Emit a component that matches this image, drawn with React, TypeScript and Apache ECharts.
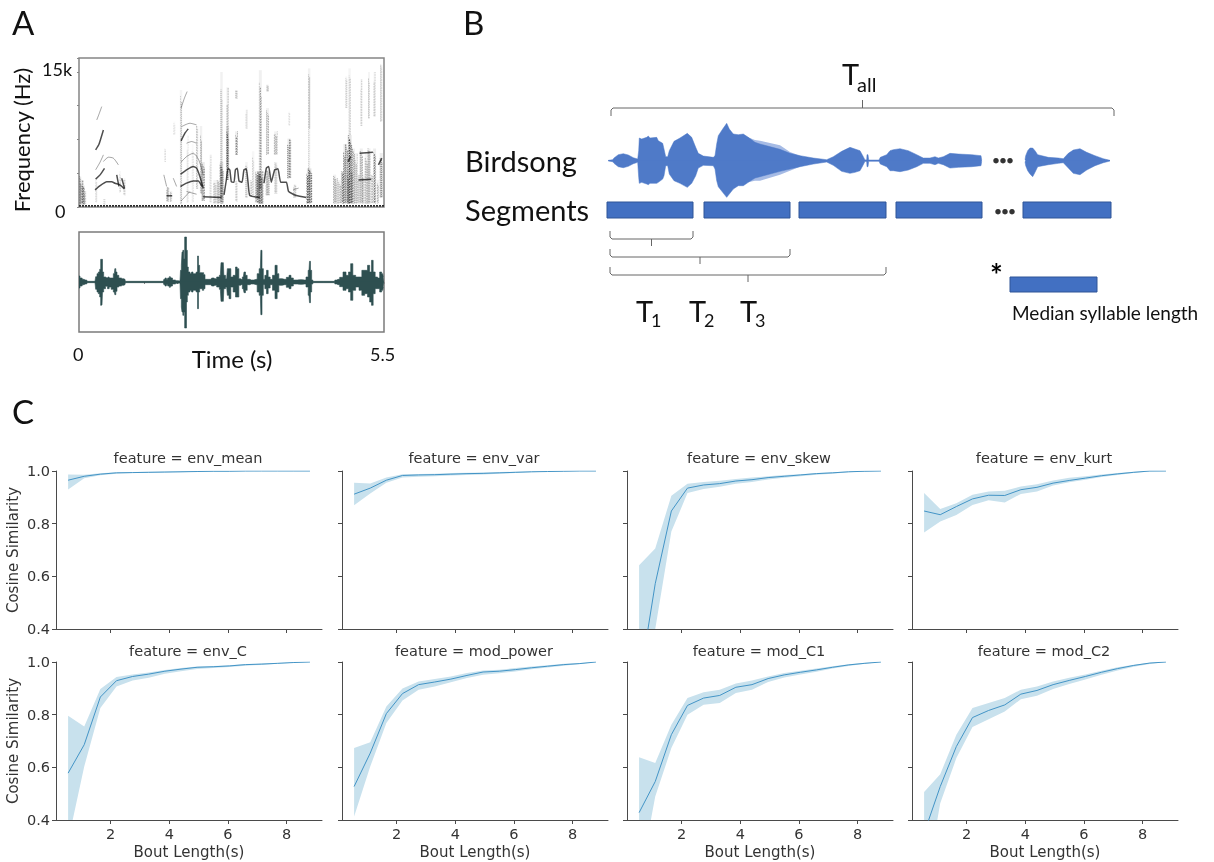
import React, { useEffect, useRef } from "react";
import * as echarts from "echarts";

// ---------- Panel C data ----------
const boutLengths = [0.55, 1.1, 1.65, 2.2, 2.75, 3.3, 3.85, 4.4, 4.95, 5.5, 6.05, 6.6, 7.15, 7.7, 8.25, 8.8];
const featureNames = ["env_mean", "env_var", "env_skew", "env_kurt", "env_C", "mod_power", "mod_C1", "mod_C2"];

const envMeanMean = [0.965, 0.98, 0.988, 0.993, 0.994, 0.995, 0.996, 0.997, 0.998, 0.999, 0.999, 1, 1, 1, 1, 1];
const envMeanUp = [0.987, 0.986, 0.991, 0.995, 0.996, 0.997, 0.998, 0.999, 0.999, 1, 1, 1, 1, 1, 1, 1];
const envMeanLo = [0.93, 0.972, 0.984, 0.99, 0.992, 0.993, 0.994, 0.995, 0.997, 0.998, 0.998, 0.999, 1, 1, 1, 1];

const envVarMean = [0.912, 0.935, 0.965, 0.983, 0.985, 0.986, 0.988, 0.99, 0.991, 0.993, 0.995, 0.997, 0.998, 0.999, 1, 1];
const envVarUp = [0.955, 0.953, 0.975, 0.988, 0.989, 0.99, 0.992, 0.993, 0.994, 0.996, 0.997, 0.998, 0.999, 1, 1, 1];
const envVarLo = [0.87, 0.915, 0.955, 0.975, 0.978, 0.98, 0.983, 0.985, 0.987, 0.99, 0.992, 0.995, 0.997, 0.999, 1, 1];

const envSkewMean = [0.19, 0.572, 0.848, 0.935, 0.947, 0.952, 0.962, 0.967, 0.975, 0.98, 0.985, 0.99, 0.993, 0.997, 0.999, 1];
const envSkewUp = [0.642, 0.706, 0.906, 0.952, 0.958, 0.963, 0.97, 0.975, 0.98, 0.985, 0.988, 0.992, 0.995, 0.998, 1, 1];
const envSkewLo = [0.1, 0.4, 0.77, 0.916, 0.932, 0.94, 0.952, 0.958, 0.968, 0.974, 0.98, 0.986, 0.99, 0.995, 0.998, 1];

const envKurtMean = [0.848, 0.834, 0.865, 0.894, 0.908, 0.907, 0.929, 0.938, 0.954, 0.964, 0.973, 0.982, 0.989, 0.995, 1, 1];
const envKurtUp = [0.916, 0.856, 0.878, 0.91, 0.922, 0.925, 0.941, 0.95, 0.964, 0.974, 0.98, 0.987, 0.992, 0.997, 1, 1];
const envKurtLo = [0.766, 0.808, 0.833, 0.871, 0.889, 0.88, 0.913, 0.922, 0.945, 0.957, 0.967, 0.977, 0.985, 0.992, 0.998, 1];

const envCMean = [0.578, 0.686, 0.867, 0.929, 0.945, 0.954, 0.965, 0.973, 0.98, 0.982, 0.985, 0.99, 0.992, 0.995, 0.998, 1];
const envCUp = [0.796, 0.755, 0.897, 0.943, 0.953, 0.96, 0.97, 0.977, 0.983, 0.985, 0.988, 0.992, 0.994, 0.996, 0.999, 1];
const envCLo = [0.32, 0.603, 0.825, 0.907, 0.93, 0.94, 0.955, 0.965, 0.973, 0.977, 0.981, 0.986, 0.989, 0.993, 0.997, 1];

const modPowerMean = [0.527, 0.654, 0.804, 0.88, 0.914, 0.924, 0.935, 0.949, 0.962, 0.965, 0.971, 0.978, 0.984, 0.99, 0.994, 1];
const modPowerUp = [0.673, 0.695, 0.831, 0.899, 0.926, 0.935, 0.945, 0.958, 0.968, 0.971, 0.977, 0.983, 0.988, 0.993, 0.996, 1];
const modPowerLo = [0.413, 0.603, 0.768, 0.854, 0.895, 0.907, 0.923, 0.939, 0.952, 0.957, 0.964, 0.972, 0.979, 0.986, 0.992, 1];

const modC1Mean = [0.428, 0.546, 0.724, 0.835, 0.863, 0.873, 0.904, 0.914, 0.937, 0.951, 0.961, 0.97, 0.98, 0.989, 0.995, 1];
const modC1Up = [0.638, 0.616, 0.762, 0.863, 0.885, 0.895, 0.918, 0.93, 0.945, 0.958, 0.967, 0.975, 0.984, 0.991, 0.997, 1];
const modC1Lo = [0.16, 0.489, 0.673, 0.8, 0.838, 0.844, 0.882, 0.895, 0.924, 0.941, 0.953, 0.963, 0.975, 0.985, 0.993, 1];

const modC2Mean = [0.35, 0.527, 0.679, 0.789, 0.816, 0.837, 0.878, 0.892, 0.914, 0.93, 0.945, 0.961, 0.975, 0.987, 0.996, 1];
const modC2Up = [0.506, 0.574, 0.724, 0.825, 0.844, 0.863, 0.895, 0.907, 0.926, 0.94, 0.953, 0.967, 0.98, 0.99, 0.997, 1];
const modC2Lo = [0.112, 0.464, 0.635, 0.753, 0.783, 0.812, 0.859, 0.872, 0.897, 0.916, 0.934, 0.952, 0.968, 0.982, 0.992, 1];

const featureMeans = [envMeanMean, envVarMean, envSkewMean, envKurtMean, envCMean, modPowerMean, modC1Mean, modC2Mean];
const featureUps = [envMeanUp, envVarUp, envSkewUp, envKurtUp, envCUp, modPowerUp, modC1Up, modC2Up];
const featureLos = [envMeanLo, envVarLo, envSkewLo, envKurtLo, envCLo, modPowerLo, modC1Lo, modC2Lo];
const xTickValues = [2, 4, 6, 8];

// ---------- Panel A spectrogram (seconds, kHz) ----------
const strokesDark: number[][][] = [
  [[0.29, 1.9], [0.38, 2.37], [0.5, 2.81], [0.59, 2.81], [0.65, 2.63], [0.74, 2.46], [0.82, 2.0]],
  [[0.3, 3.1], [0.38, 3.57], [0.46, 4.3]],
  [[0.3, 6.35], [0.36, 6.97], [0.44, 8.56]],
  [[0.68, 3.57], [0.72, 2.3]],
  [[0.77, 3.2], [0.82, 2.1]],
  [[1.58, 1.24], [1.68, 1.24]],
  [[1.83, 2.28], [1.94, 2.65], [2.06, 2.9], [2.15, 2.9], [2.22, 2.28]],
  [[1.83, 3.64], [1.94, 4.13], [2.06, 4.5], [2.12, 4.31], [2.18, 3.38], [2.24, 2.08]],
  [[1.84, 7.34], [1.91, 8.2], [1.97, 8.68]],
  [[2.24, 1.15], [2.57, 1.05]],
  [[2.615, 1.35], [2.657, 3.0], [2.687, 4.3], [2.72, 4.1], [2.747, 2.81], [2.795, 2.75], [2.82, 4.13], [2.855, 4.3], [2.885, 2.9], [2.94, 2.75], [2.975, 4.13], [3.017, 4.24], [3.05, 2.65], [3.08, 1.27], [3.26, 1.05]],
  [[3.336, 2.65], [3.378, 4.3], [3.42, 4.5], [3.468, 2.75], [3.528, 4.13], [3.588, 4.24], [3.637, 2.75], [3.74, 2.75], [3.78, 1.72], [3.92, 1.27], [4.1, 1.05]],
  [[5.06, 5.97], [5.3, 6.09]],
  [[5.04, 3.0], [5.27, 3.08]],
  [[4.85, 5.05], [4.9, 5.6]],
  [[5.4, 4.67], [5.46, 5.42]],
];
const strokesFaint: number[][][] = [
  [[0.44, 5.05], [0.53, 5.53], [0.62, 5.42], [0.71, 4.68]],
  [[0.3, 4.13], [0.38, 4.98], [0.44, 5.79]],
  [[0.32, 9.67], [0.36, 10.3], [0.41, 11.15]],
  [[1.53, 3.57], [1.58, 2.28]],
  [[1.7, 3.2], [1.76, 2.28]],
  [[1.84, 4.98], [1.94, 5.6], [2.06, 5.97], [2.16, 5.22], [2.24, 3.57]],
  [[1.94, 7.08], [2.03, 7.27], [2.12, 7.08]],
  [[1.85, 8.93], [2.0, 9.3], [2.12, 9.12]],
  [[1.84, 10.97], [1.9, 12.08], [1.95, 12.82]],
  [[1.84, 0.67], [2.0, 1.72]],
  [[1.94, 1.72], [2.12, 1.42]],
  [[3.86, 1.9], [3.96, 2.1]],
];
// [time, low kHz, high kHz, darkness, spread]
const smears: number[][] = [
  [0.02, 0.3, 3.4, 0.35, 1.5], [0.05, 0.3, 3, 0.6, 2], [0.08, 0.3, 2.4, 0.5, 2], [0.11, 0.3, 1.8, 0.3, 1.5],
  [0.31, 0.5, 3.2, 0.2, 1], [0.46, 0.2, 0.9, 0.2, 1], [0.74, 1.6, 4, 0.2, 1], [0.82, 1.3, 3.2, 0.25, 1],
  [1.6, 0.6, 2.2, 0.45, 2], [1.66, 0.6, 1.8, 0.35, 1.5], [1.55, 5, 6.5, 0.15, 1], [1.72, 8, 9.5, 0.15, 1],
  [1.84, 0.3, 13, 0.28, 1.5], [1.96, 0.5, 8, 0.16, 1], [2.05, 0.5, 7, 0.15, 1], [2.13, 2, 9, 0.28, 1.5],
  [2.2, 1.5, 9, 0.38, 1.5], [2.24, 0.7, 5, 0.6, 2], [2.37, 0.5, 5.8, 0.2, 1.5], [2.45, 0.4, 3, 0.3, 2],
  [2.51, 0.4, 3, 0.4, 2], [2.57, 1, 15, 0.38, 1.5], [2.57, 0.4, 5, 0.7, 2.5], [2.68, 4.5, 13.3, 0.38, 1.5], [2.68, 3, 9, 0.55, 2],
  [2.84, 12, 13, 0.38, 1.5], [2.84, 5.8, 8.4, 0.45, 2], [2.84, 0.6, 3, 0.28, 1], [3.02, 8.7, 10.8, 0.22, 1], [3.02, 1, 5, 0.35, 1.5],
  [3.1, 1.2, 3, 0.25, 1.5], [3.14, 1.3, 6.2, 0.22, 1.5], [3.2, 0.5, 4, 0.4, 2], [3.23, 1, 3.6, 0.35, 2],
  [3.27, 2, 15.2, 0.42, 2], [3.27, 0.4, 4, 0.85, 3.5], [3.4, 12.8, 13.6, 0.4, 1.5], [3.4, 5.8, 11, 0.36, 2], [3.4, 1.3, 4.1, 0.45, 2.5],
  [3.55, 5.8, 8.4, 0.38, 2.5], [3.55, 1.5, 5, 0.3, 2], [3.79, 3.2, 7.6, 0.55, 2.5], [3.79, 9, 10.6, 0.15, 1], [3.89, 1, 2.5, 0.28, 2],
  [4.15, 8.7, 15.4, 0.36, 1.5], [4.15, 4.3, 8.7, 0.2, 1.5], [4.15, 0.4, 4.3, 0.8, 3.5],
  [4.61, 0.4, 3.6, 0.4, 2], [4.65, 0.4, 3.2, 0.3, 1.5], [4.7, 0.4, 3, 0.35, 2], [4.75, 0.4, 4, 0.5, 2], [4.8, 0.4, 7, 0.6, 2.5],
  [4.82, 11, 14.5, 0.24, 1], [4.88, 0.4, 8, 0.75, 3], [4.88, 8, 15.4, 0.28, 1.5], [4.95, 0.4, 6.5, 0.4, 2], [5.0, 0.4, 6, 0.35, 2],
  [5.09, 0.4, 6.5, 0.45, 2], [5.09, 9, 14.2, 0.24, 1], [5.18, 0.4, 6, 0.35, 2], [5.23, 0.4, 6.5, 0.45, 2], [5.23, 9.8, 15, 0.28, 1],
  [5.33, 0.4, 6.5, 0.5, 2], [5.33, 10, 15, 0.28, 1], [5.45, 1, 6, 0.5, 2], [5.45, 9.5, 15.8, 0.3, 1.5],
  [4.85, 0.4, 4, 0.5, 1.5], [4.92, 0.4, 4, 0.4, 1.5], [5.04, 0.4, 3.6, 0.35, 1.5], [5.13, 0.4, 3.6, 0.35, 1.5], [5.28, 0.4, 3.6, 0.35, 1.5], [5.39, 0.4, 3, 0.35, 1.5],
];
const spectroBase = [[0, 0.12], [5.5, 0.12]];

// ---------- Panel A waveform (frames, envelope up, envelope down) ----------
const waveFrames = [0, 6, 13, 18, 24, 25, 48, 52, 56, 60, 64, 66, 69, 72, 76, 83, 88, 93, 100, 106, 109, 112, 116, 123, 130, 138, 140, 253, 256, 260, 264, 268, 274, 278, 283, 293, 303, 306, 308, 310, 313, 316, 318, 321, 324, 326, 330, 336, 340, 344, 350, 354, 357, 360, 364, 368, 372, 376, 380, 396, 400, 408, 418, 424, 428, 433, 436, 443, 447, 453, 458, 467, 472, 477, 482, 487, 493, 497, 502, 507, 517, 532, 537, 544, 547, 551, 555, 560, 565, 570, 577, 584, 592, 597, 602, 617, 627, 633, 639, 647, 662, 677, 685, 690, 693, 696, 700, 703, 765, 770, 777, 787, 797, 805, 812, 818, 825, 835, 845, 852, 862, 869, 875, 880, 885, 892, 899, 905, 911, 915];
const waveUp = [18, 12, 8, 6, 5, 2, 2, 16, 25, 30, 38, 68, 68, 30, 15, 13, 15, 12, 12, 25, 40, 30, 20, 12, 10, 8, 2, 2, 8, 12, 8, 12, 16, 12, 6, 4, 3, 35, 50, 90, 95, 70, 135, 135, 95, 45, 30, 25, 30, 25, 25, 30, 78, 50, 28, 28, 28, 22, 8, 8, 12, 10, 15, 20, 58, 58, 20, 10, 40, 40, 15, 20, 45, 40, 10, 8, 15, 30, 20, 8, 6, 8, 25, 40, 95, 40, 8, 20, 35, 15, 8, 20, 50, 25, 10, 8, 14, 20, 12, 6, 7, 6, 15, 35, 62, 35, 6, 2, 2, 6, 8, 14, 30, 20, 30, 55, 20, 15, 15, 35, 35, 50, 30, 65, 30, 15, 12, 30, 25, 15];
const waveDown = [18, 12, 8, 6, 5, 2, 2, 22, 30, 35, 45, 70, 68, 30, 20, 13, 20, 15, 22, 30, 38, 28, 15, 12, 10, 8, 2, 2, 8, 12, 8, 12, 16, 12, 6, 4, 3, 50, 75, 90, 100, 90, 138, 138, 60, 40, 30, 25, 30, 25, 25, 30, 80, 30, 20, 20, 25, 20, 8, 8, 12, 10, 15, 22, 58, 58, 20, 15, 40, 50, 15, 30, 45, 45, 10, 8, 20, 32, 25, 8, 6, 8, 30, 40, 98, 40, 8, 20, 35, 18, 8, 25, 50, 30, 10, 8, 16, 20, 12, 6, 7, 6, 15, 40, 62, 30, 6, 2, 2, 6, 8, 14, 25, 20, 30, 55, 25, 15, 25, 40, 35, 45, 60, 70, 35, 20, 20, 30, 25, 15];

// ---------- Panel B birdsong envelope ----------
const songTimes = [8.3, 12.7, 14, 18.3, 23.3, 28.3, 33.3, 37.7, 38.7, 39.3, 41.7, 46.7, 48.3, 50, 56.7, 58.3, 62.7, 64, 65.7, 67.7, 69.3, 74, 80, 87.3, 91.7, 95.7, 98.3, 103.3, 113.3, 115, 116.7, 118.3, 122.7, 126.7, 129.3, 133.3, 138.3, 143.3, 148.3, 155, 160, 180, 190, 200, 213.3, 226.7, 233.3, 241.7, 250, 255, 260, 263.3, 265, 266.7, 267, 268, 268.7, 279, 280.3, 286.7, 290, 293.3, 300, 308.3, 316.7, 323.3, 330, 335, 338.3, 343.3, 350, 358.3, 371.7, 381, 381.7, 400, 425, 425.7, 427.7, 430, 432.7, 435, 437.7, 448.3, 458.3, 463.3, 468.3, 473.3, 480, 486.7, 495, 503.3, 510];
const songUp = [1, 3, 8, 18, 21, 17, 9, 5, 30, 68, 65, 70, 74, 68, 70, 60, 52, 35, 12, 12, 30, 58, 68, 82, 70, 40, 22, 14, 10, 15, 50, 75, 95, 112, 95, 80, 78, 80, 70, 55, 50, 34, 22, 15, 8, 3, 12, 28, 40, 35, 30, 12, 2, 3, 18, 18, 2, 2, 10, 18, 30, 33, 36, 30, 18, 8, 8, 12, 8, 12, 22, 20, 18, 15, 2, null, 3, 15, 30, 38, 38, 30, 18, 10, 8, 6, 22, 32, 36, 25, 15, 6, 1];
const songDown = [1, 3, 8, 18, 21, 17, 9, 5, 50, 68, 65, 70, 72, 68, 68, 65, 55, 45, 15, 15, 40, 60, 68, 80, 68, 45, 22, 14, 15, 25, 60, 78, 95, 110, 100, 85, 75, 75, 65, 52, 48, 32, 25, 18, 10, 4, 14, 32, 38, 35, 30, 12, 2, 3, 18, 18, 2, 2, 10, 18, 30, 30, 33, 28, 18, 8, 8, 12, 8, 12, 22, 20, 18, 15, 2, null, 3, 15, 30, 40, 48, 35, 18, 12, 8, 6, 22, 38, 42, 28, 15, 6, 1];
const songLightTimes = [148, 155, 160, 180, 190, 200];
const songLightUp = [70, 62, 60, 46, 26, 15];
const songLightDown = [65, 60, 60, 42, 30, 18];

// ---------- Panel B schematic ----------
const segmentSpans = [[7, 93], [104, 190], [199, 286], [296, 382], [423, 511]];
const segmentRow = [202, 218];
const medianSpan = [410, 497];
const medianRow = [277, 292];
const braceTall = [11, 514, 108];
const bracesBelow = [[10, 93, 239], [10, 190, 257], [10, 286, 275]];
const ellipsisDots = [[396, 160.7], [403, 160.7], [410, 160.7], [398, 211.7], [405, 211.7], [412, 211.7]];

// ---------- Layout ----------
const sans = "Lato, 'Liberation Sans', sans-serif";
const dj = "'DejaVu Sans', sans-serif";
const colLeft = [56, 342, 627, 912];
const rowTop = [471, 662];
const colW = 266;
const rowH = 158;
const speckleDashes = [[0.7, 0.9], [1.2, 0.8], [0.5, 1.1], [1.6, 1.0]];
const speckleEnds = [1, 0.86, 0.95, 0.78, 0.9];

function txt(text: string, x: number, y: number, size: number, opts: any = {}) {
  const { rotation, ...style } = opts;
  return {
    type: "text",
    x,
    y,
    rotation: rotation || 0,
    silent: true,
    style: {
      text,
      fontFamily: sans,
      fontSize: size,
      fill: "#111",
      textVerticalAlign: "middle",
      textAlign: "left",
      ...style,
    },
  };
}

function buildOption() {
  const grid: any[] = [];
  const xAxis: any[] = [];
  const yAxis: any[] = [];
  const series: any[] = [];
  const title: any[] = [];

  // Panel C
  featureNames.forEach((name, i) => {
    const c = i % 4;
    const r = Math.floor(i / 4);
    grid.push({ left: colLeft[c], top: rowTop[r], width: colW, height: rowH });
    const idx = grid.length - 1;
    xAxis.push({
      gridIndex: idx,
      type: "value",
      min: 0.137,
      max: 9.21,
      splitLine: { show: false },
      axisLine: { lineStyle: { color: "#4a4a4a", width: 1 } },
      axisTick: { length: 4, lineStyle: { color: "#4a4a4a" }, customValues: xTickValues },
      axisLabel: {
        show: r === 1,
        customValues: xTickValues,
        fontFamily: dj,
        fontSize: 14.5,
        color: "#333",
        margin: 6,
      },
      name: r === 1 ? "Bout Length(s)" : "",
      nameLocation: "middle",
      nameGap: 24,
      nameTextStyle: { fontFamily: dj, fontSize: 15, color: "#333" },
    });
    yAxis.push({
      gridIndex: idx,
      type: "value",
      min: 0.4,
      max: 1.0,
      interval: 0.2,
      splitLine: { show: false },
      axisLine: { show: true, lineStyle: { color: "#4a4a4a", width: 1 } },
      axisTick: { show: true, length: 4, lineStyle: { color: "#4a4a4a" } },
      axisLabel: {
        show: c === 0,
        fontFamily: dj,
        fontSize: 14.5,
        color: "#333",
        margin: 6,
        formatter: (v: number) => v.toFixed(1),
      },
      name: c === 0 ? "Cosine Similarity" : "",
      nameLocation: "middle",
      nameGap: 36,
      nameTextStyle: { fontFamily: dj, fontSize: 15, color: "#333" },
    });
    const lo = featureLos[i];
    const up = featureUps[i];
    const mean = featureMeans[i];
    series.push({
      type: "custom",
      xAxisIndex: idx,
      yAxisIndex: idx,
      clip: true,
      silent: true,
      data: boutLengths.map((x, k) => [x, lo[k], up[k]]),
      encode: { x: 0, y: [1, 2] },
      renderItem: (params: any, api: any) => {
        if (params.dataIndex !== 0) return null;
        const top = boutLengths.map((x, k) => api.coord([x, up[k]]));
        const bottom = boutLengths.map((x, k) => api.coord([x, lo[k]])).reverse();
        return {
          type: "polygon",
          shape: { points: [...top, ...bottom] },
          style: { fill: "#c8e1ed", stroke: "none" },
        };
      },
    });
    series.push({
      type: "line",
      xAxisIndex: idx,
      yAxisIndex: idx,
      symbol: "none",
      lineStyle: { color: "#4394c6", width: 1 },
      data: boutLengths.map((x, k) => [x, mean[k]]),
      clip: true,
      z: 5,
      silent: true,
    });
    title.push({
      text: "feature = " + name,
      left: colLeft[c] + 132,
      top: rowTop[r] === 471 ? 450 : 643,
      textAlign: "center",
      padding: 0,
      textStyle: { fontFamily: dj, fontSize: 14.5, fontWeight: "normal", color: "#333" },
    });
  });

  // Panel A spectrogram
  grid.push({ left: 79, top: 58, width: 305, height: 149, show: true, borderColor: "#858585", borderWidth: 1.5, backgroundColor: "#fff" });
  const sg = grid.length - 1;
  xAxis.push({ gridIndex: sg, type: "value", min: 0, max: 5.5, show: false, splitLine: { show: false } });
  yAxis.push({
    gridIndex: sg,
    type: "value",
    min: 0,
    max: 16.55,
    interval: 3.75,
    axisLine: { show: false },
    axisTick: { show: true, length: 2, lineStyle: { color: "#888" } },
    axisLabel: { show: false },
    splitLine: { show: false },
  });
  series.push({
    type: "custom",
    xAxisIndex: sg,
    yAxisIndex: sg,
    clip: true,
    silent: true,
    data: smears,
    encode: { x: 0, y: [1, 2] },
    renderItem: (params: any, api: any) => {
      const a = api.coord([api.value(0), api.value(1)]);
      const b = api.coord([api.value(0), api.value(2)]);
      const dark = api.value(3);
      const spread = api.value(4);
      const n = Math.max(1, Math.round(spread * 1.6));
      const children: any[] = [
        {
          type: "line",
          shape: { x1: a[0], y1: a[1], x2: b[0], y2: b[1] },
          style: { stroke: `rgba(0,0,0,${dark * 0.14})`, lineWidth: spread + 1 },
        },
      ];
      for (let j = 0; j < n; j++) {
        const off = j - (n - 1) / 2;
        const fade = 1 - (Math.abs(off) / n) * 0.7;
        const end = speckleEnds[(params.dataIndex + j * 2) % speckleEnds.length];
        children.push({
          type: "line",
          shape: { x1: a[0] + off, y1: a[1], x2: a[0] + off, y2: a[1] + (b[1] - a[1]) * end },
          style: {
            stroke: `rgba(0,0,0,${dark * fade})`,
            lineWidth: 1,
            lineDash: speckleDashes[(params.dataIndex + j) % speckleDashes.length],
            lineDashOffset: (params.dataIndex * 3 + j * 5) * 0.31,
          },
        });
      }
      return { type: "group", children };
    },
  });
  strokesFaint.forEach((points) =>
    series.push({
      type: "line",
      xAxisIndex: sg,
      yAxisIndex: sg,
      symbol: "none",
      smooth: 0.25,
      silent: true,
      lineStyle: { color: "rgba(30,30,30,0.4)", width: 1 },
      data: points,
      z: 3,
    })
  );
  strokesDark.forEach((points) =>
    series.push({
      type: "line",
      xAxisIndex: sg,
      yAxisIndex: sg,
      symbol: "none",
      smooth: 0.15,
      silent: true,
      lineStyle: { color: "rgba(10,10,10,0.72)", width: 1.5 },
      data: points,
      z: 4,
    })
  );
  series.push({
    type: "line",
    xAxisIndex: sg,
    yAxisIndex: sg,
    symbol: "none",
    silent: true,
    lineStyle: { color: "#2a2a2a", width: 1.8, type: [2, 1] },
    data: spectroBase,
    z: 4,
  });

  // Panel A waveform
  grid.push({ left: 79, top: 232, width: 305, height: 100, show: true, borderColor: "#7b7b7b", borderWidth: 1.5, backgroundColor: "#fff" });
  const wg = grid.length - 1;
  xAxis.push({
    gridIndex: wg,
    type: "value",
    min: 0,
    max: 915,
    interval: 98,
    axisLine: { show: false },
    axisTick: { show: true, length: 2, lineStyle: { color: "#888" } },
    axisLabel: { show: false },
    splitLine: { show: false },
  });
  yAxis.push({ gridIndex: wg, type: "value", min: -150, max: 150, show: false, splitLine: { show: false } });
  const waveColor = "#2e4f50";
  [waveUp, waveDown.map((v) => -v)].forEach((vals, s) =>
    series.push({
      type: "line",
      xAxisIndex: wg,
      yAxisIndex: wg,
      symbol: "none",
      step: "middle",
      silent: true,
      lineStyle: { color: waveColor, width: 0.6 },
      areaStyle: { color: waveColor, opacity: 1, origin: s === 0 ? -1 : 1 },
      data: waveFrames.map((t, k) => [t, vals[k]]),
    })
  );

  // Panel B birdsong
  grid.push({ left: 600, top: 110.7, width: 520, height: 100 });
  const bg = grid.length - 1;
  xAxis.push({ gridIndex: bg, type: "value", min: 0, max: 520, show: false, splitLine: { show: false } });
  yAxis.push({ gridIndex: bg, type: "value", min: -150, max: 150, show: false, splitLine: { show: false } });
  [songLightUp, songLightDown.map((v) => -v)].forEach((vals) =>
    series.push({
      type: "line",
      xAxisIndex: bg,
      yAxisIndex: bg,
      symbol: "none",
      silent: true,
      lineStyle: { width: 0 },
      areaStyle: { color: "#a6bbe5", opacity: 1, origin: 0 },
      data: songLightTimes.map((t, k) => [t, vals[k]]),
    })
  );
  const songColor = "#4f7ac8";
  [songUp, songDown.map((v) => (v === null ? null : -(v as number)))].forEach((vals, s) =>
    series.push({
      type: "line",
      xAxisIndex: bg,
      yAxisIndex: bg,
      symbol: "none",
      silent: true,
      connectNulls: false,
      lineStyle: { color: songColor, width: 0.5 },
      areaStyle: { color: songColor, opacity: 1, origin: s === 0 ? -1 : 1 },
      data: songTimes.map((t, k) => [t, vals[k]]),
      z: 3,
    })
  );

  // Panel B schematic
  grid.push({ left: 600, top: 0, width: 520, height: 340 });
  const dg = grid.length - 1;
  xAxis.push({ gridIndex: dg, type: "value", min: 0, max: 520, show: false, splitLine: { show: false } });
  yAxis.push({ gridIndex: dg, type: "value", min: 0, max: 340, inverse: true, show: false, splitLine: { show: false } });
  const boxes = [
    ...segmentSpans.map((s) => [s[0], s[1], segmentRow[0], segmentRow[1]]),
    [medianSpan[0], medianSpan[1], medianRow[0], medianRow[1]],
  ];
  series.push({
    type: "custom",
    xAxisIndex: dg,
    yAxisIndex: dg,
    silent: true,
    data: boxes,
    encode: { x: [0, 1], y: [2, 3] },
    renderItem: (_p: any, api: any) => {
      const a = api.coord([api.value(0), api.value(2)]);
      const b = api.coord([api.value(1), api.value(3)]);
      return {
        type: "rect",
        shape: { x: a[0], y: a[1], width: b[0] - a[0], height: b[1] - a[1] },
        style: { fill: "#4270c2", stroke: "#2f5597", lineWidth: 1 },
      };
    },
  });
  const braces = [
    [braceTall[0], braceTall[1], braceTall[2], 8, -8],
    ...bracesBelow.map((b) => [b[0], b[1], b[2], -8, 7]),
  ];
  series.push({
    type: "custom",
    xAxisIndex: dg,
    yAxisIndex: dg,
    silent: true,
    data: braces,
    encode: { x: [0, 1], y: 2 },
    renderItem: (_p: any, api: any) => {
      const l = api.coord([api.value(0), api.value(2)]);
      const r = api.coord([api.value(1), api.value(2)]);
      const endD = api.value(3);
      const tickD = api.value(4);
      const mid = (l[0] + r[0]) / 2;
      const lineStyle = { stroke: "#666", lineWidth: 1, fill: "none" };
      return {
        type: "group",
        children: [
          {
            type: "polyline",
            shape: { points: [[l[0], l[1] + endD], [l[0], l[1] + (endD > 0 ? 2 : -2)], [l[0] + 2, l[1]], [r[0] - 2, l[1]], [r[0], l[1] + (endD > 0 ? 2 : -2)], [r[0], l[1] + endD]] },
            style: lineStyle,
          },
          { type: "line", shape: { x1: mid, y1: l[1], x2: mid, y2: l[1] + tickD }, style: lineStyle },
        ],
      };
    },
  });
  series.push({
    type: "scatter",
    xAxisIndex: dg,
    yAxisIndex: dg,
    symbol: "circle",
    symbolSize: 5.5,
    silent: true,
    itemStyle: { color: "#000" },
    data: ellipsisDots,
  });

  const graphic = [
    txt("A", 12, 22, 33),
    txt("B", 463, 22, 33),
    txt("C", 12, 411, 33),
    txt("Frequency (Hz)", 21, 140, 22, { rotation: Math.PI / 2, textAlign: "center" }),
    txt("15k", 42, 69, 18),
    txt("0", 55, 211, 18),
    txt("0", 73, 354, 18),
    txt("Time (s)", 232, 358, 24, { textAlign: "center" }),
    txt("5.5", 370, 354, 18),
    txt("Birdsong", 465, 160, 29),
    txt("Segments", 465, 209, 29),
    txt("T", 842, 73, 29),
    txt("all", 857, 84, 20),
    txt("T", 636, 310, 29),
    txt("1", 651, 320, 18),
    txt("T", 689, 310, 29),
    txt("2", 704, 320, 18),
    txt("T", 740, 310, 29),
    txt("3", 755, 320, 18),
    txt("*", 990, 274, 30, { fontWeight: "bold", fill: "#000" }),
    txt("Median syllable length", 1012, 312, 19),
  ];

  return { animation: false, backgroundColor: "#fff", grid, xAxis, yAxis, series, title, graphic };
}

export default function App() {
  const ref = useRef<HTMLDivElement>(null);
  useEffect(() => {
    document.body.style.margin = "0";
    const chart = echarts.init(ref.current!, undefined, { renderer: "svg" });
    chart.setOption(buildOption() as any);
    return () => chart.dispose();
  }, []);
  return <div ref={ref} style={{ width: 1214, height: 862, filter: "blur(0.4px)" }} />;
}
